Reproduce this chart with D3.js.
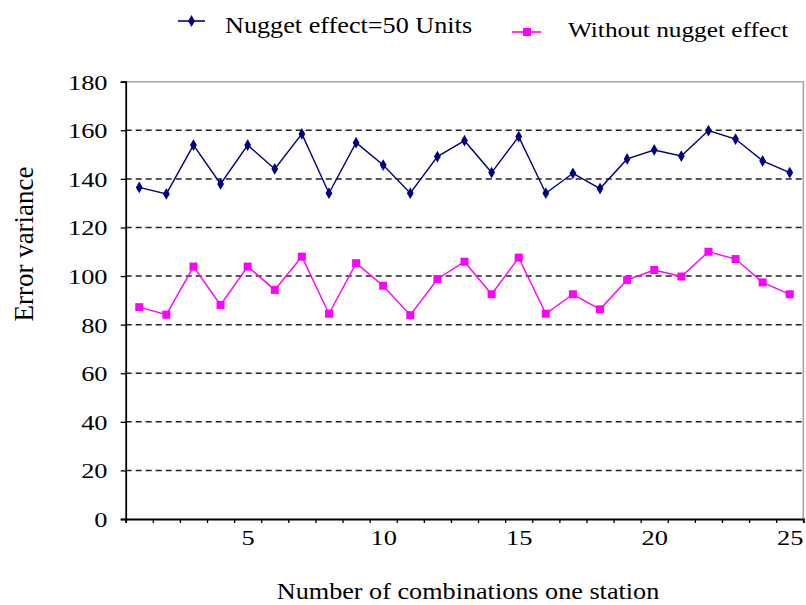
<!DOCTYPE html>
<html>
<head>
<meta charset="utf-8">
<script src="https://cdn.jsdelivr.net/npm/d3@7"></script>
<style>
  html, body { margin: 0; padding: 0; background: #fff; }
  svg { display: block; }
</style>
</head>
<body>
<svg id="chart" width="806" height="605"></svg>
<script>
const categories = d3.range(1, 26);
const nuggetValues = [136.5, 133.8, 153.9, 137.9, 153.9, 144.1, 158.5, 134.1, 154.9, 145.7,
                      134.1, 149.2, 155.7, 142.6, 157.4, 134.1, 142.3, 136.0, 148.2, 151.9,
                      149.4, 159.9, 156.4, 147.4, 142.6];
const noNuggetValues = [87.2, 84.1, 103.9, 88.1, 103.9, 94.3, 108.0, 84.5, 105.3, 96.0,
                        83.9, 98.8, 105.9, 92.5, 107.6, 84.5, 92.5, 86.3, 98.4, 102.5,
                        99.8, 110.0, 107.0, 97.4, 92.5];
const yTicks = [0, 20, 40, 60, 80, 100, 120, 140, 160, 180];
const gridValues = [20, 40, 60, 80, 100, 120, 140, 160];
const xLabelTicks = [5, 10, 15, 20, 25];
const seriesNames = ["Nugget effect=50 Units", "Without nugget effect"];
const xTitle = "Number of combinations one station";
const yTitle = "Error variance";

const FONT = "'Liberation Serif', 'Times New Roman', serif";
const svg = d3.select("#chart");
const pLeft = 125.7, pRight = 803.3, pTop = 81.7, pBottom = 519;
const x = d3.scaleLinear().domain([0.5, 25.5]).range([pLeft, pRight]);
const y = d3.scaleLinear().domain([0, 180]).range([pBottom, pTop]);
const SX = 1.2;

// frame top & right (gray)
svg.append("path")
  .attr("d", `M${pLeft},${pTop}H${pRight}V${pBottom}`)
  .attr("fill", "none").attr("stroke", "#a6a6a6").attr("stroke-width", 1.6);

// grid
svg.append("g").selectAll("line").data(gridValues).join("line")
  .attr("x1", pLeft).attr("x2", pRight)
  .attr("y1", d => y(d)).attr("y2", d => y(d))
  .attr("stroke", "#222").attr("stroke-width", 1.5).attr("stroke-dasharray", "6,4");

// y axis
const yAxis = svg.append("g").attr("transform", `translate(${pLeft},0)`)
  .call(d3.axisLeft(y).tickValues(yTicks).tickSize(5).tickPadding(8).tickFormat(d3.format("d")));
yAxis.select(".domain").attr("stroke", "#000").attr("stroke-width", 1.8);
yAxis.selectAll(".tick line").attr("stroke", "#000").attr("stroke-width", 1.3);
yAxis.selectAll(".tick text")
  .style("font-family", FONT).style("font-size", "22px").attr("fill", "#000")
  .attr("dy", "0.34em")
  .attr("transform", function() {
    const xx = +d3.select(this).attr("x");
    return `translate(${xx * (SX - 1)},0) scale(${SX},1)`;
  });

// x axis tick marks at boundaries
const boundaries = d3.range(0.5, 26, 1);
const xAxis = svg.append("g").attr("transform", `translate(0,${pBottom})`)
  .call(d3.axisBottom(x).tickValues(boundaries).tickSize(4).tickFormat(""));
xAxis.select(".domain").attr("stroke", "#000").attr("stroke-width", 1.8);
xAxis.selectAll(".tick line").attr("stroke", "#000").attr("stroke-width", 1.3);

// x labels at category centres
const xLab = svg.append("g").attr("transform", `translate(0,${pBottom})`)
  .call(d3.axisBottom(x).tickValues(xLabelTicks).tickSize(0).tickPadding(10));
xLab.select(".domain").remove();
xLab.selectAll(".tick text")
  .style("font-family", FONT).style("font-size", "22px").attr("fill", "#000")
  .attr("transform", `scale(${SX},1)`);

// series
const line = d3.line().x((d, i) => x(categories[i])).y(d => y(d));
svg.append("path").datum(nuggetValues).attr("d", line)
  .attr("fill", "none").attr("stroke", "#000080").attr("stroke-width", 1.4);
svg.append("path").datum(noNuggetValues).attr("d", line)
  .attr("fill", "none").attr("stroke", "#ff00ff").attr("stroke-width", 1.4);

const diamond = d3.symbol().type(d3.symbolDiamond).size(40);
svg.append("g").selectAll("path").data(nuggetValues).join("path")
  .attr("d", diamond)
  .attr("transform", (d, i) => `translate(${x(categories[i])},${y(d)})`)
  .attr("fill", "#000080");
svg.append("g").selectAll("rect").data(noNuggetValues).join("rect")
  .attr("x", (d, i) => x(categories[i]) - 4).attr("y", d => y(d) - 4)
  .attr("width", 8).attr("height", 8).attr("fill", "#ff00ff");

// legend
const lg = svg.append("g");
lg.append("line").attr("x1", 178).attr("x2", 205).attr("y1", 21).attr("y2", 21)
  .attr("stroke", "#000080").attr("stroke-width", 1.6);
lg.append("path").attr("d", diamond).attr("transform", "translate(191.5,21)").attr("fill", "#000080");
lg.append("text").attr("transform", `translate(225,33) scale(1.15,1)`)
  .style("font-family", FONT).style("font-size", "22.8px").text(seriesNames[0]);
lg.append("line").attr("x1", 512).attr("x2", 541).attr("y1", 32).attr("y2", 32)
  .attr("stroke", "#ff00ff").attr("stroke-width", 1.6);
lg.append("rect").attr("x", 523).attr("y", 28).attr("width", 8).attr("height", 8).attr("fill", "#ff00ff");
lg.append("text").attr("transform", `translate(568,37) scale(1.15,1)`)
  .style("font-family", FONT).style("font-size", "22px").text(seriesNames[1]);

// axis titles
svg.append("text").attr("transform", `translate(468,599) scale(1.18,1)`)
  .attr("text-anchor", "middle")
  .style("font-family", FONT).style("font-size", "22.2px").text(xTitle);
svg.append("text").attr("transform", "translate(33,244) rotate(-90)")
  .attr("text-anchor", "middle")
  .style("font-family", FONT).style("font-size", "27px").text(yTitle);
</script>
</body>
</html>
